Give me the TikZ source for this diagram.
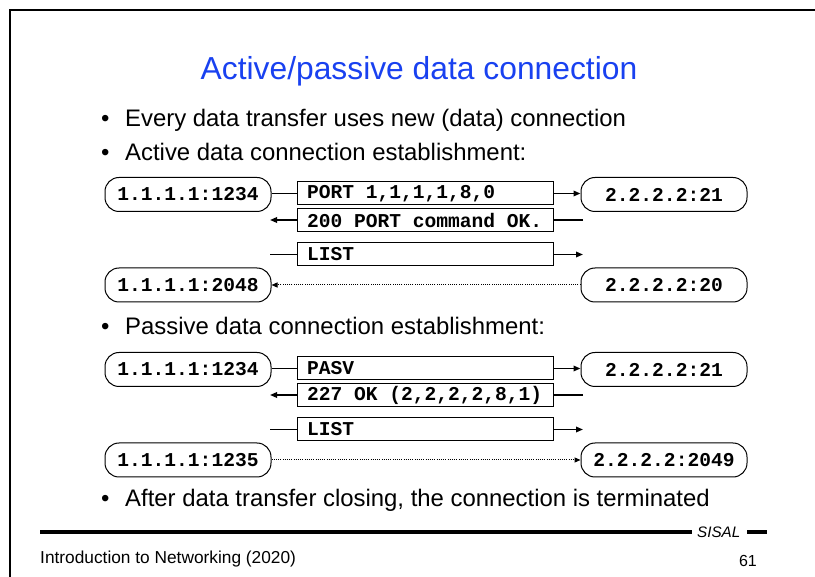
\documentclass[tikz,border=0pt]{standalone}
\usepackage{fontspec}
\setmainfont{Liberation Sans}
\newfontfamily\monob{Liberation Mono}
\usetikzlibrary{arrows.meta}
\definecolor{titleblue}{RGB}{25,65,240}
\newcommand\msgtxt[1]{\makebox[236pt][l]{#1}}
\begin{document}
\begin{tikzpicture}[x=1pt,y=-1pt,
  host/.style={draw, line width=1pt, rounded corners=14pt, minimum width=166pt,
    minimum height=34pt, inner sep=0pt, font=\monob\bfseries\fontsize{19.6}{20}\selectfont},
  msg/.style={draw, line width=1pt, minimum width=256pt, minimum height=23pt,
    inner sep=0pt, font=\monob\bfseries\fontsize{19.6}{20}\selectfont},
  conn/.style={line width=1.6pt},
  arr/.style={conn, -{Triangle[length=7pt,width=5.5pt]}},
  dots/.style={line width=1pt, dash pattern=on 1pt off 1.2pt, -{Triangle[length=6pt,width=5pt]}},
  body/.style={anchor=base west, inner sep=0pt, font=\fontsize{23.9}{26}\selectfont},
  bul/.style={anchor=base west, inner sep=0pt, font=\fontsize{23.9}{26}\selectfont}
]
\useasboundingbox (0,0) rectangle (815,577);
% frame
\draw[line width=2pt] (10,577) -- (10,10) -- (815,10);
% title
\node[anchor=base, inner sep=0pt, text=titleblue, font=\fontsize{31.8}{34}\selectfont] (title) at (419,80) {Active/passive data connection};
% bullets
\node[bul] (b1) at (101,127) {•};
\node[body] (t1) at (125,127) {Every data transfer uses new (data) connection};
\node[bul] (b2) at (101,161) {•};
\node[body] (t2) at (125,161) {Active data connection establishment:};
\node[bul] (b3) at (101,335) {•};
\node[body] (t3) at (125,335) {Passive data connection establishment:};
\node[bul] (b4) at (101,507) {•};
\node[body] (t4) at (125,507) {After data transfer closing, the connection is terminated};
% active section
\node[host] (a1) at (188,194.5) {1.1.1.1:1234};
\node[host] (a2) at (664,194.5) {2.2.2.2:21};
\node[msg] (m1) at (425,193.5) {\msgtxt{PORT 1,1,1,1,8,0}};
\node[msg] (m2) at (425,220) {\msgtxt{200 PORT command OK.}};
\node[msg] (m3) at (425,254.5) {\msgtxt{LIST}};
\node[host] (a3) at (188,285) {1.1.1.1:2048};
\node[host] (a4) at (664,285) {2.2.2.2:20};
\coordinate (m2l) at (270,220);
\coordinate (m2r) at (583,220);
\coordinate (m3l) at (270,254.5);
\coordinate (m3r) at (583,254.5);
\draw[conn] (a1.east |- m1.west) -- (m1.west);
\draw[arr] (m1.east) -- (a2.west |- m1.east);
\draw[conn] (m2r) -- (m2.east);
\draw[arr] (m2.west) -- (m2l);
\draw[conn] (m3l) -- (m3.west);
\draw[arr] (m3.east) -- (m3r);
\draw[dots] (a4.west) -- (a3.east);
% passive section
\node[host] (p1) at (188,369.5) {1.1.1.1:1234};
\node[host] (p2) at (664,369.5) {2.2.2.2:21};
\node[msg] (n1) at (425,368.5) {\msgtxt{PASV}};
\node[msg] (n2) at (425,395) {\msgtxt{227 OK (2,2,2,2,8,1)}};
\node[msg] (n3) at (425,429.5) {\msgtxt{LIST}};
\node[host] (p3) at (188,460) {1.1.1.1:1235};
\node[host] (p4) at (664,460) {2.2.2.2:2049};
\coordinate (n2l) at (270,395);
\coordinate (n2r) at (583,395);
\coordinate (n3l) at (270,429.5);
\coordinate (n3r) at (583,429.5);
\draw[conn] (p1.east |- n1.west) -- (n1.west);
\draw[arr] (n1.east) -- (p2.west |- n1.east);
\draw[conn] (n2r) -- (n2.east);
\draw[arr] (n2.west) -- (n2l);
\draw[conn] (n3l) -- (n3.west);
\draw[arr] (n3.east) -- (n3r);
\draw[dots] (p3.east) -- (p4.west);
% footer
\coordinate (fl1) at (40,532);
\coordinate (fl2) at (692,532);
\coordinate (fl3) at (747,532);
\coordinate (fl4) at (767,532);
\draw[line width=3.5pt] (fl1) -- (fl2);
\draw[line width=3.5pt] (fl3) -- (fl4);
\node[anchor=base west, inner sep=0pt, font=\itshape\fontsize{15.2}{16}\selectfont] (sisal) at (697,538) {SISAL};
\node[anchor=base west, inner sep=0pt, font=\fontsize{17.3}{18}\selectfont] (foot) at (40,564) {Introduction to Networking (2020)};
\node[anchor=base east, inner sep=0pt, font=\fontsize{16}{18}\selectfont] (pg) at (757,566) {61};
\end{tikzpicture}
\end{document}
